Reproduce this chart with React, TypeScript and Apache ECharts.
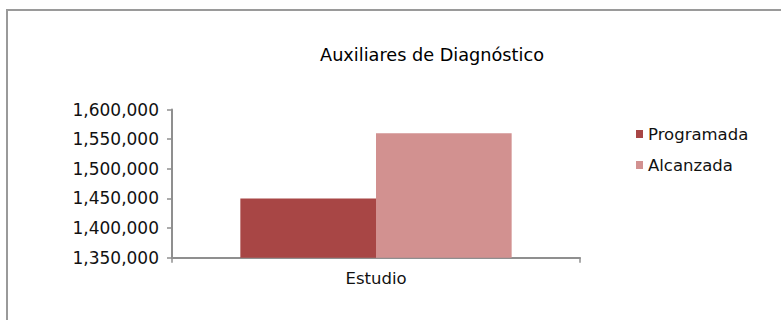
import React, { useEffect, useRef } from "react";
import * as echarts from "echarts";

const categories = ["Estudio"];
const seriesNames = ["Programada", "Alcanzada"];
const programada = [1450000];
const alcanzada = [1560000];
const titleText = "Auxiliares de Diagnóstico";

const FONT = "DejaVu Sans";

export default function App() {
  const ref = useRef<HTMLDivElement>(null);
  useEffect(() => {
    if (!ref.current) return;
    const chart = echarts.init(ref.current, undefined, { renderer: "svg" });
    chart.setOption({
      animation: false,
      backgroundColor: "#ffffff",
      graphic: [
        {
          type: "rect",
          shape: { x: 7, y: 10, width: 800, height: 400 },
          style: { fill: "none", stroke: "#9a9a9a", lineWidth: 2 },
          silent: true,
        },
        {
          type: "text",
          x: 432,
          y: 55,
          style: {
            text: titleText,
            textAlign: "center",
            textVerticalAlign: "middle",
            fontFamily: FONT,
            fontSize: 17.7,
            fill: "#000000",
          },
        },
      ],
      legend: {
        orient: "vertical",
        left: 636,
        top: 124,
        padding: 0,
        itemWidth: 7,
        itemHeight: 8,
        itemGap: 11,
        icon: "rect",
        data: seriesNames,
        textStyle: { fontFamily: FONT, fontSize: 16.5, color: "#111111", lineHeight: 20 },
      },
      grid: { left: 172, right: 201, top: 109.5, bottom: 62.3, containLabel: false },
      xAxis: {
        type: "category",
        data: categories,
        axisLine: { show: true, lineStyle: { color: "#8f8f8f", width: 2 } },
        axisTick: { show: true, length: 5, lineStyle: { color: "#8f8f8f", width: 1.5 } },
        axisLabel: { fontFamily: FONT, fontSize: 16.5, color: "#111111", margin: 12 },
      },
      yAxis: {
        type: "value",
        min: 1350000,
        max: 1600000,
        interval: 50000,
        splitLine: { show: false },
        axisLine: { show: true, lineStyle: { color: "#8f8f8f", width: 2 } },
        axisTick: { show: true, length: 5, lineStyle: { color: "#8f8f8f", width: 1.5 } },
        axisLabel: {
          fontFamily: FONT,
          fontSize: 17,
          color: "#111111",
          margin: 13,
          formatter: (v: number) => v.toLocaleString("en-US"),
        },
      },
      series: [
        {
          name: seriesNames[0],
          type: "bar",
          data: programada,
          itemStyle: { color: "#A84645" },
          barGap: "0%",
          barCategoryGap: "33.5%",
        },
        {
          name: seriesNames[1],
          type: "bar",
          data: alcanzada,
          itemStyle: { color: "#D29190" },
          barGap: "0%",
          barCategoryGap: "33.5%",
        },
      ],
    });
    return () => chart.dispose();
  }, []);
  return (
    <div
      ref={ref}
      style={{ position: "fixed", left: 0, top: 0, width: 781, height: 320 }}
    />
  );
}
